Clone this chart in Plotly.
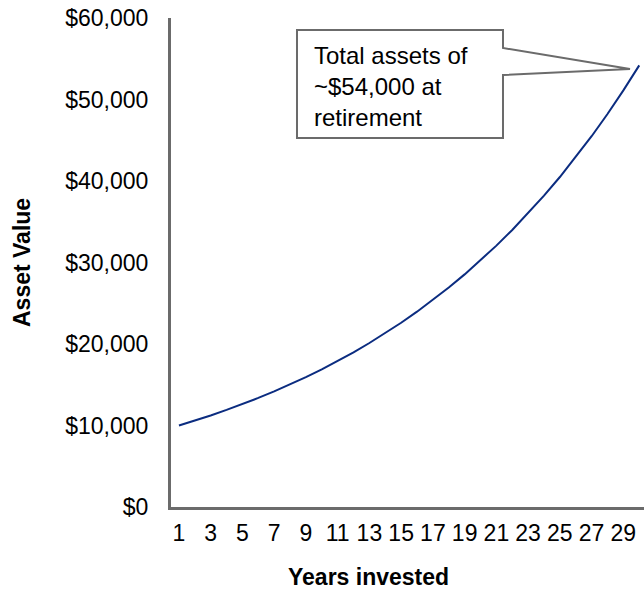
import plotly.graph_objects as go

years = list(range(1, 31))
asset_values = [10000, 10600, 11236, 11910, 12625, 13382, 14185, 15036, 15938, 16895,
                17908, 18983, 20122, 21329, 22609, 23966, 25404, 26928, 28543, 30256,
                32071, 33996, 36035, 38197, 40489, 42919, 45494, 48223, 51117, 54184]
x_tick_vals = list(range(1, 30, 2))
y_tick_vals = [0, 10000, 20000, 30000, 40000, 50000, 60000]
y_tick_text = ["$0", "$10,000", "$20,000", "$30,000", "$40,000", "$50,000", "$60,000"]
callout_text = "Total assets of<br>~$54,000 at<br>retirement"

W, H = 644, 590
L, R, T, B = 171, 0, 18, 83
pw, ph = W - L - R, H - T - B

def px(x):
    return (x - L) / pw

def py(y):
    return (H - B - y) / ph

FONT = "Liberation Sans, Arial, sans-serif"
AX = "#6b6b6b"

fig = go.Figure()
fig.add_trace(go.Scatter(x=years, y=asset_values, mode="lines",
                         line=dict(color="#0B2C80", width=2), hoverinfo="skip"))

pts = [(297, 30), (503, 30), (503, 48), (630, 69), (503, 75), (503, 138), (297, 138)]
path = "M " + " L ".join(f"{px(a):.5f},{py(b):.5f}" for a, b in pts) + " Z"
fig.add_shape(type="path", path=path, xref="paper", yref="paper",
              line=dict(color=AX, width=2), fillcolor="white", layer="above")

fig.add_annotation(x=px(312), y=py(86), xref="paper", yref="paper", text=callout_text,
                   showarrow=False, xanchor="left", yanchor="middle", align="left",
                   font=dict(family=FONT, size=24, color="black"))
fig.add_annotation(x=px(368), y=py(577), xref="paper", yref="paper", text="<b>Years invested</b>",
                   showarrow=False, xanchor="center", yanchor="middle",
                   font=dict(family=FONT, size=23, color="black"))
fig.add_annotation(x=px(22), y=py(263), xref="paper", yref="paper", text="<b>Asset Value</b>",
                   showarrow=False, xanchor="center", yanchor="middle", textangle=-90,
                   font=dict(family=FONT, size=23, color="black"))

fig.update_layout(
    width=W, height=H, margin=dict(l=L, r=R, t=T, b=B, autoexpand=False),
    paper_bgcolor="white", plot_bgcolor="white", showlegend=False,
    font=dict(family=FONT, size=23, color="black"),
    xaxis=dict(range=[0.5, 30.3], tickmode="array", tickvals=x_tick_vals,
               showgrid=False, zeroline=False, showline=True, linecolor=AX, linewidth=3,
               ticks="", ticklabelstandoff=3, tickfont=dict(size=23)),
    yaxis=dict(range=[0, 60000], tickmode="array", tickvals=y_tick_vals, ticktext=y_tick_text,
               showgrid=False, zeroline=False, showline=True, linecolor=AX, linewidth=3,
               ticks="", ticklabelstandoff=15, tickfont=dict(size=23)),
)

fig.write_html("out.html", config={"displayModeBar": False, "staticPlot": True},
               post_script="document.body.style.margin='0';document.body.style.overflow='hidden';")
